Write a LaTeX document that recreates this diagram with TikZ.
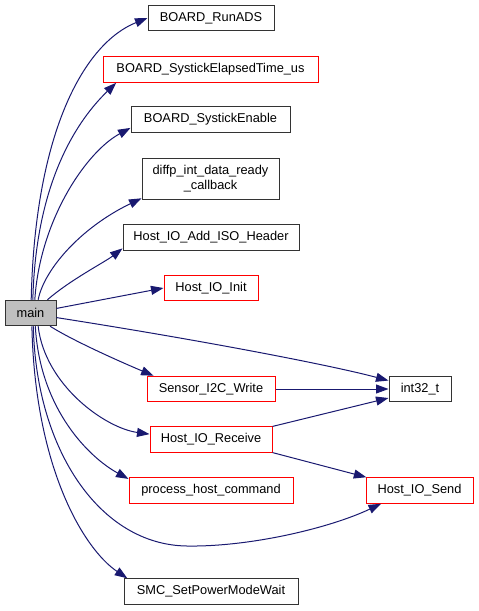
\documentclass[tikz,border=0pt]{standalone}
\usepackage{fontspec}
\setmainfont{Liberation Sans}
\usetikzlibrary{arrows.meta}
\definecolor{edgeblue}{HTML}{191970}
\definecolor{mainfill}{HTML}{BFBFBF}

\begin{document}
\begin{tikzpicture}[x=1pt, y=-1pt,
    fn/.style={draw=black!80, fill=white, line width=1pt, minimum height=25.5pt,
               inner sep=0pt, font=\fontsize{12.8}{14.5}\selectfont, align=center},
    fnred/.style={fn, draw=red},
    call/.style={-{Triangle[length=12.5pt,width=9pt]}, edgeblue, line width=1pt}]

\useasboundingbox (0,0) rectangle (479,611);

%% ---- Funzioni chiamate (colonna x=211) ----
\node[fn, fill=mainfill, minimum width=51pt] (main) at (30.5,313) {main};
\node[fn,    minimum width=126pt] (runads)  at (211,18)    {BOARD\_RunADS};
\node[fnred, minimum width=215pt] (elapsed) at (210.5,69.5) {BOARD\_SystickElapsedTime\_us};
\node[fn,    minimum width=159pt] (enable)  at (210.5,119.5) {BOARD\_SystickEnable};
\node[fn,    minimum width=137pt, minimum height=41pt] (diffp) at (210.5,178.5)
    {diffp\_int\_data\_ready\\\_callback};
\node[fn,    minimum width=176pt] (addiso)  at (211,237.5) {Host\_IO\_Add\_ISO\_Header};
\node[fnred, minimum width=94pt]  (init)    at (211,288)   {Host\_IO\_Init};
\node[fnred, minimum width=128pt] (sensor)  at (211,389)   {Sensor\_I2C\_Write};
\node[fnred, minimum width=122pt] (receive) at (211,439.5) {Host\_IO\_Receive};
\node[fnred, minimum width=164pt] (process) at (211,490.5) {process\_host\_command};
\node[fn,    minimum width=174pt] (smc)     at (211,591.5) {SMC\_SetPowerModeWait};

%% ---- Colonna destra ----
\node[fn,    minimum width=62pt]  (int32)   at (420,389)   {int32\_t};
\node[fnred, minimum width=107pt] (send)    at (419.5,490.5) {Host\_IO\_Send};

%% ---- Chiamate da main ----
\draw[call] (main.87) .. controls (35,130) and (85,43) .. (runads.west);
\draw[call] (main.80) .. controls (36,170) and (86,112) .. (elapsed.188);
\draw[call] (main.72) .. controls (40,220) and (86,152) .. (enable.186);
\draw[call] (main.60) .. controls (44,270) and (80,228) .. (diffp.196);
\draw[call] (main.38) .. controls (70,280) and (105,262) .. (addiso.187);
\draw[call] (main.10) -- (init.west);
\draw[call] (main.-10) .. controls (200,340) and (330,365) .. (int32.165);
\draw[call] (main.-34) .. controls (75,342) and (128,365) .. (sensor.167);
\draw[call] (main.-60) .. controls (45,385) and (105,428) .. (receive.175);
\draw[call] (main.-70) .. controls (40,410) and (90,458) .. (process.172);
\draw[call] (main.-78) .. controls (36,450) and (100,545) .. (187,546)
    .. controls (250,547) and (330,528) .. (send.199);
\draw[call] (main.-84) .. controls (35,470) and (85,550) .. (smc.171);

%% ---- Chiamate secondarie ----
\draw[call] (sensor.east) -- (int32.west);
\draw[call] (receive.12) -- (int32.196);
\draw[call] (receive.-12) -- (send.166);

\end{tikzpicture}
\end{document}
